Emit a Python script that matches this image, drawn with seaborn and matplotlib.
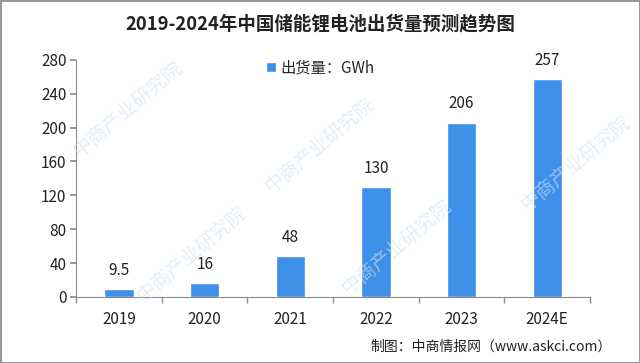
import pandas as pd
import matplotlib
matplotlib.use("Agg")
import matplotlib.pyplot as plt
import seaborn as sns
from matplotlib.ticker import FixedLocator

# data
years = ["2019", "2020", "2021", "2022", "2023", "2024E"]
shipments = [9.5, 16, 48, 130, 206, 257]
value_labels = ["9.5", "16", "48", "130", "206", "257"]

df = pd.DataFrame({"year": years, "gwh": shipments})

sns.set_theme(style="white")
plt.rcParams["font.family"] = ["Noto Sans CJK SC", "DejaVu Sans"]

bar_color = "#3d8fe8"

fig = plt.figure(figsize=(6.4, 3.63), dpi=100)
fig.patch.set_edgecolor("#9a9a9a")
fig.patch.set_linewidth(2)
ax = fig.add_axes([0.119, 0.182, 0.803, 0.653])

sns.barplot(data=df, x="year", y="gwh", color=bar_color, width=0.34,
            saturation=1, ax=ax, label="出货量：GWh")

for i, (v, t) in enumerate(zip(shipments, value_labels)):
    ax.text(i, v + 12, t, ha="center", va="bottom", fontsize=11, color="#222222")

ax.set_ylim(0, 280)
ax.set_xlim(-0.5, 5.5)
ax.set_yticks(range(0, 281, 40))
ax.set_xlabel("")
ax.set_ylabel("")
for s in ["top", "right"]:
    ax.spines[s].set_visible(False)
for s in ["left", "bottom"]:
    ax.spines[s].set_color("#8c8c8c")
    ax.spines[s].set_linewidth(0.8)

ax.tick_params(axis="y", which="major", direction="out", length=4, color="#8c8c8c",
               labelsize=11, labelcolor="#222222", left=True, pad=3)
ax.tick_params(axis="x", which="major", length=0, labelsize=11, labelcolor="#222222", pad=10)
ax.xaxis.set_minor_locator(FixedLocator([i - 0.5 for i in range(len(years) + 1)]))
ax.tick_params(axis="x", which="minor", direction="out", length=4, color="#8c8c8c", bottom=True)

leg = ax.legend(loc="upper center", bbox_to_anchor=(0.475, 1.06), frameon=False,
                fontsize=11, handlelength=0.7, handleheight=0.7, handletextpad=0.3)

fig.text(0.5, 0.935, "2019-2024年中国储能锂电池出货量预测趋势图", ha="center", va="center",
         fontsize=13.3, fontweight="bold", color="#222222")
fig.text(0.955, 0.045, "制图：中商情报网（www.askci.com）", ha="right", va="center",
         fontsize=10, color="#222222")

# faint watermark, kept inside the frame and clear of the value labels
for x, y in [(0.2, 0.7), (0.5, 0.6), (0.9, 0.55), (0.3, 0.3), (0.62, 0.32)]:
    fig.text(x, y, "中商产业研究院", rotation=40, ha="center", va="center",
             fontsize=14, color="#cfe3f5", alpha=0.6, zorder=0)

fig.savefig("out.png", dpi=100)
